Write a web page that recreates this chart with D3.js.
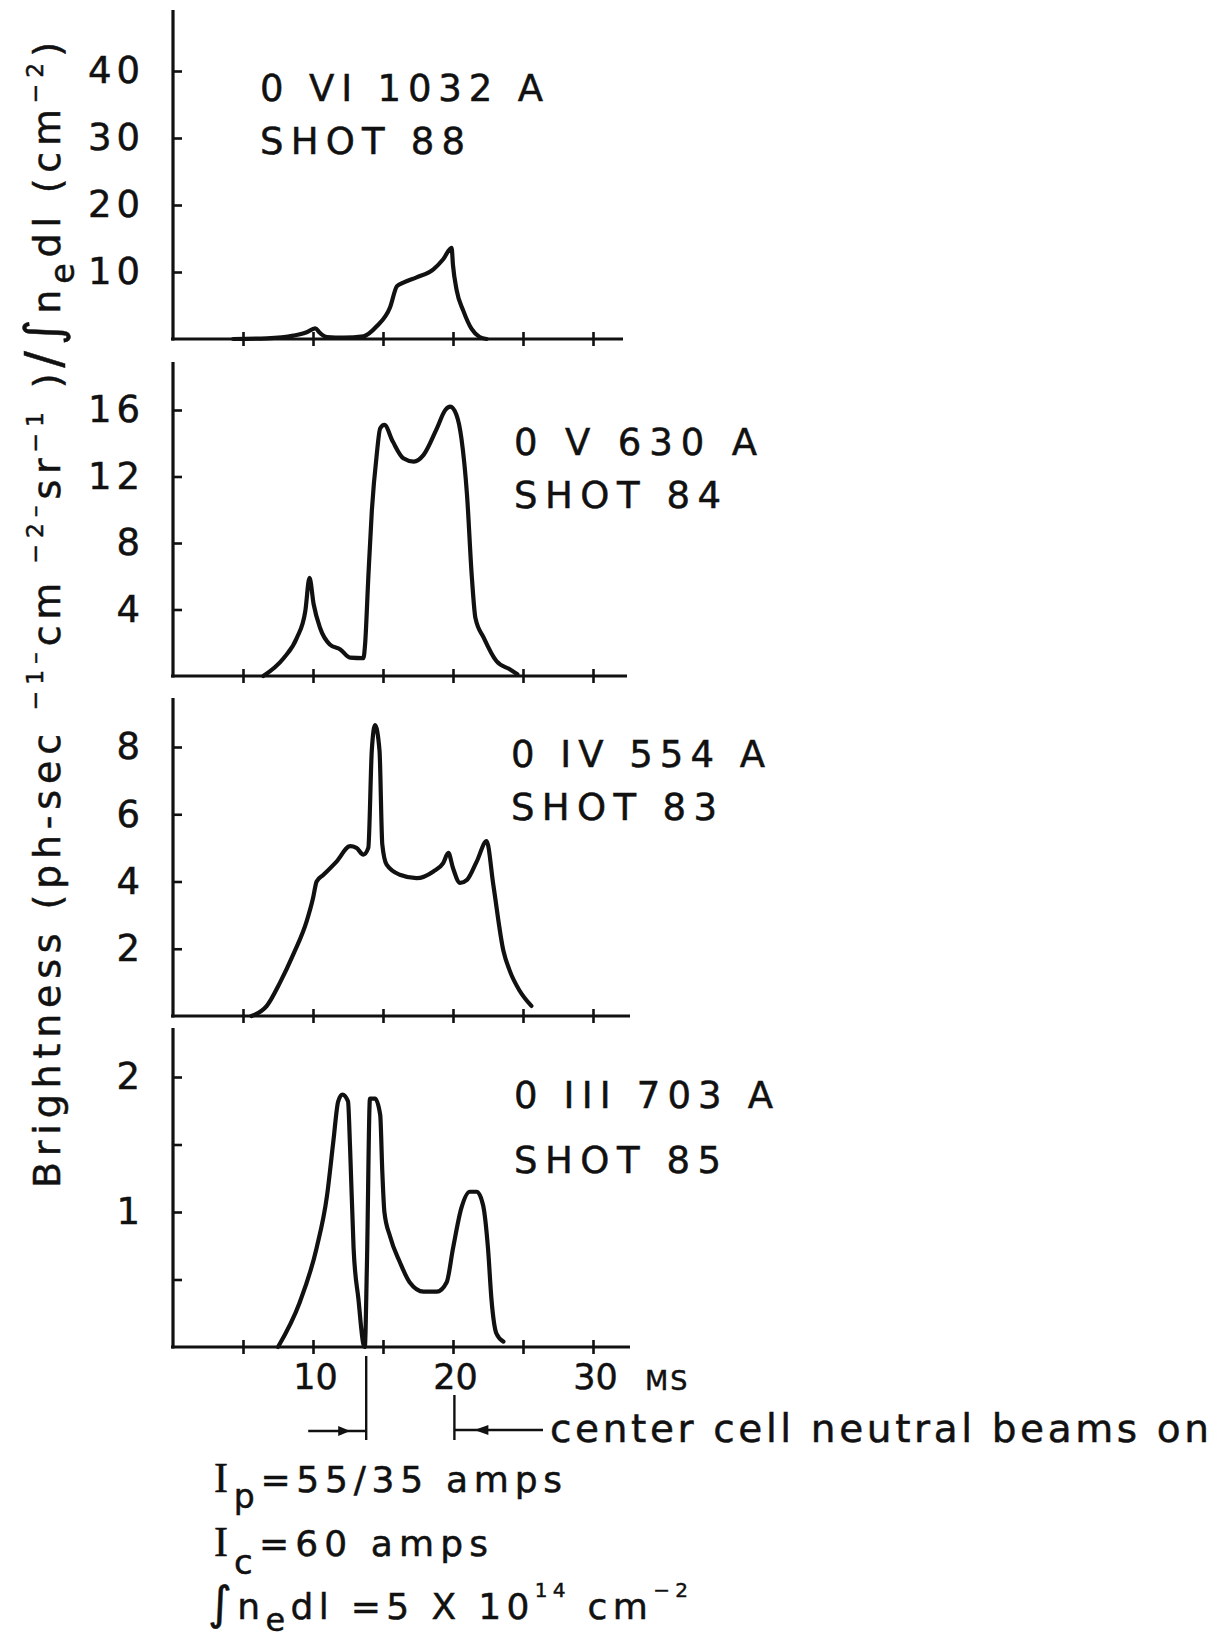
<!DOCTYPE html>
<html>
<head>
<meta charset="utf-8">
<script src="https://cdn.jsdelivr.net/npm/d3@7"></script>
<style>
  body { margin: 0; background: #fff; }
  svg { display: block; background: #fff; }
  text { font-family: "DejaVu Sans", "Liberation Sans", Arial, sans-serif; fill: #111; stroke: #111; stroke-width: 0.5px; }
</style>
</head>
<body>
<div id="chart"></div>
<script>
// ===== Dữ liệu =====
const panelNames = ["0 VI 1032 A", "0 V 630 A", "0 IV 554 A", "0 III 703 A"];
const shotNames = ["SHOT 88", "SHOT 84", "SHOT 83", "SHOT 85"];
const xTickValues = [5, 10, 15, 20, 25, 30];
const xTickLabels = [10, 20, 30];
const yTickValues = [[10, 20, 30, 40], [4, 8, 12, 16], [2, 4, 6, 8], [0.5, 1, 1.5, 2]];
const yDomainMax = [40, 16, 8, 2];
const markerTimes = [13.8, 20.1];   // ms

// O VI 1032 A, shot 88
const o6Time  = [4.3, 6.7, 8.6, 9.55, 10.15, 10.5, 11.0, 12.2, 13.6, 14.55, 15.5, 16.0, 16.45, 17.4, 18.6, 19.3, 19.9, 20.0, 20.26, 20.74, 21.33, 21.9, 22.4];
const o6Value = [0, 0.1, 0.5, 1.0, 1.6, 0.9, 0.3, 0.2, 0.4, 1.9, 4.7, 7.9, 8.4, 9.2, 10.4, 11.9, 13.6, 11.0, 7.3, 4.2, 1.5, 0.3, 0];
// O V 630 A, shot 84
const o5Time  = [6.45, 7.9, 8.85, 9.45, 9.75, 10.05, 10.5, 11.2, 11.95, 12.65, 13.6, 13.72, 13.95, 14.2, 14.55, 14.8, 15.1, 15.7, 16.45, 17.2, 17.9, 18.85, 19.45, 19.8, 20.25, 20.6, 21.0, 21.35, 21.6, 22.2, 23.1, 24.05, 24.6];
const o5Value = [0, 1.07, 2.3, 3.9, 5.9, 4.3, 2.9, 1.9, 1.6, 1.1, 1.07, 1.9, 5.9, 9.9, 13.3, 14.9, 15.1, 14.1, 13.1, 12.9, 13.3, 14.9, 16.0, 16.2, 15.7, 14.3, 10.9, 5.9, 3.5, 2.3, 0.9, 0.4, 0.1];
// O IV 554 A, shot 83
const o4Time  = [5.6, 6.7, 7.65, 8.6, 9.55, 10.0, 10.26, 10.75, 11.7, 12.65, 13.1, 13.6, 13.95, 14.2, 14.43, 14.75, 14.95, 15.26, 16.2, 17.4, 18.6, 19.3, 19.67, 20.0, 20.5, 21.0, 21.7, 22.4, 22.88, 23.6, 24.05, 24.76, 25.6];
const o4Value = [0, 0.3, 1.0, 1.84, 2.82, 3.5, 4.0, 4.2, 4.6, 5.05, 5.0, 4.8, 5.0, 7.9, 8.65, 7.9, 5.1, 4.5, 4.2, 4.1, 4.3, 4.55, 4.85, 4.4, 3.96, 4.05, 4.6, 5.2, 3.9, 1.94, 1.35, 0.75, 0.3];
// O III 703 A, shot 85
const o3Time  = [7.5, 9.05, 10.25, 11.0, 11.45, 11.8, 12.1, 12.5, 12.65, 12.9, 13.25, 13.6, 13.7, 13.85, 14.07, 14.43, 14.8, 14.95, 15.1, 15.5, 16.2, 16.9, 17.9, 18.85, 19.55, 20.0, 20.6, 21.2, 21.7, 22.15, 22.5, 22.75, 23.1, 23.6];
const o3Value = [0, 0.33, 0.73, 1.12, 1.52, 1.82, 1.87, 1.82, 1.47, 0.73, 0.35, 0.02, 0, 0.6, 1.84, 1.84, 1.72, 1.3, 1.0, 0.82, 0.63, 0.48, 0.41, 0.41, 0.48, 0.73, 1.03, 1.15, 1.15, 1.05, 0.73, 0.35, 0.1, 0.04];

const seriesTime = [o6Time, o5Time, o4Time, o3Time];
const seriesValue = [o6Value, o5Value, o4Value, o3Value];

// ===== Bố cục (pixel) =====
const W = 1228, H = 1641;
const ink = "#111";
const font = "'DejaVu Sans', 'Liberation Sans', Arial, sans-serif";
const xRange = [173, 593];
const layout = [
  { top: 10,   base: 339,  topPx: 71,   end: 623, lx: 260, len1: 283, len2: 205, y1: 101,  y2: 154 },
  { top: 362,  base: 676,  topPx: 410,  end: 627, lx: 514, len1: 243, len2: 207, y1: 455,  y2: 508 },
  { top: 698,  base: 1016, topPx: 747,  end: 630, lx: 511, len1: 254, len2: 206, y1: 767,  y2: 820 },
  { top: 1028, base: 1347, topPx: 1077, end: 630, lx: 514, len1: 259, len2: 207, y1: 1108, y2: 1173 }
];

const svg = d3.select("#chart").append("svg")
  .attr("width", W).attr("height", H);

const x = d3.scaleLinear().domain([0, 30]).range(xRange);

// Vẽ từng khung
layout.forEach((L, i) => {
  const y = d3.scaleLinear().domain([0, yDomainMax[i]]).range([L.base, L.topPx]);
  const g = svg.append("g");

  // trục dọc + trục ngang
  g.append("line").attr("x1", xRange[0]).attr("x2", xRange[0])
    .attr("y1", L.top).attr("y2", L.base + 1.5)
    .attr("stroke", ink).attr("stroke-width", 3.2);
  g.append("line").attr("x1", xRange[0] - 2).attr("x2", L.end)
    .attr("y1", L.base).attr("y2", L.base)
    .attr("stroke", ink).attr("stroke-width", 3.2);

  // vạch chia trục y (hướng vào trong)
  const yTicks = g.append("g").attr("transform", `translate(${xRange[0]},0)`)
    .call(d3.axisRight(y).tickValues(yTickValues[i]).tickSize(9).tickFormat(""));
  yTicks.select(".domain").remove();
  yTicks.selectAll("line").attr("stroke", ink).attr("stroke-width", 2.6);

  // nhãn trục y
  const yLab = g.append("g").attr("transform", `translate(${xRange[0]},0)`)
    .call(d3.axisLeft(y).tickValues(yTickValues[i]).tickSize(0).tickPadding(28)
      .tickFormat(d => Number.isInteger(d) ? d : ""));
  yLab.select(".domain").remove();
  yLab.selectAll("text")
    .style("font-family", font)
    .style("font-size", "37px").style("letter-spacing", "5px").attr("fill", ink);

  // vạch chia trục x (cắt ngang trục)
  const xTicks = g.append("g").attr("transform", `translate(0,${L.base})`)
    .call(d3.axisBottom(x).tickValues(xTickValues).tickSize(7).tickFormat(""));
  xTicks.select(".domain").remove();
  xTicks.selectAll("line").attr("y1", -7).attr("stroke", ink).attr("stroke-width", 2.6);

  // đường cong
  const pts = seriesTime[i].map((t, k) => [t, seriesValue[i][k]]);
  g.append("path").datum(pts)
    .attr("fill", "none").attr("stroke", ink).attr("stroke-width", 4.2)
    .attr("stroke-linejoin", "round").attr("stroke-linecap", "round")
    .attr("d", d3.line().x(d => x(d[0])).y(d => y(d[1])).curve(d3.curveMonotoneX));

  // tên vạch phổ
  g.append("text").attr("x", L.lx).attr("y", L.y1)
    .attr("textLength", L.len1).attr("lengthAdjust", "spacing")
    .style("font-size", "37px").text(panelNames[i]);
  g.append("text").attr("x", L.lx).attr("y", L.y2)
    .attr("textLength", L.len2).attr("lengthAdjust", "spacing")
    .style("font-size", "37px").text(shotNames[i]);

  // nhãn thời gian dưới khung cuối
  if (i === layout.length - 1) {
    const xLab = g.append("g").attr("transform", `translate(0,${L.base})`)
      .call(d3.axisBottom(x).tickValues(xTickLabels).tickSize(0).tickPadding(17));
    xLab.select(".domain").remove();
    xLab.selectAll("text")
      .style("font-family", font).style("font-size", "35px")
      .attr("dx", 2).attr("fill", ink);
  }
});

// đơn vị MS
svg.append("text").attr("x", 645).attr("y", 1390)
  .style("font-size", "27px").style("letter-spacing", "2px").text("MS");

// Hàm viết chữ có chỉ số trên / dưới
function richText(parent, pieces, size) {
  let shift = 0;
  pieces.forEach(p => {
    const ts = parent.append("tspan").text(p.t);
    let target = 0, fs = size;
    if (p.k === "sup") { target = -size * 0.45; fs = size * 0.62; }
    if (p.k === "sub") { target = size * 0.38; fs = size * 0.88; }
    if (p.k === "big") { fs = size * 1.3; }
    if (p.k === "serif") { ts.style("font-family", "'Liberation Serif', 'DejaVu Serif', serif"); }
    if (p.fs) fs = p.fs;
    if (p.dy !== undefined) target = p.dy;
    ts.attr("dy", target - shift).style("font-size", fs + "px");
    shift = target;
  });
}

// tiêu đề trục y (xoay dọc)
const yTitle = svg.append("text")
  .attr("transform", "translate(60,1188) rotate(-90)")
  .attr("textLength", 1146).attr("lengthAdjust", "spacing")
  .style("font-size", "38px");
richText(yTitle, [
  { t: "Brightness (ph-sec ", k: "n" },
  { t: "−1–", k: "sup" },
  { t: "cm", k: "n" },
  { t: " −2–", k: "sup" },
  { t: "sr", k: "n" },
  { t: "−1", k: "sup" },
  { t: " )", k: "n" },
  { t: "/∫", k: "big" },
  { t: "n", k: "n" },
  { t: "e", k: "sub" },
  { t: "dl (cm", k: "n" },
  { t: "−2", k: "sup" },
  { t: ")", k: "n" }
], 38);

// mốc thời gian dưới trục
const xm1 = x(markerTimes[0]), xm2 = x(markerTimes[1]);
const mark = svg.append("g").attr("stroke", ink).attr("stroke-width", 2.4).attr("fill", ink);
mark.append("line").attr("x1", xm1).attr("x2", xm1).attr("y1", 1356).attr("y2", 1440);
mark.append("line").attr("x1", xm1 - 58).attr("x2", xm1).attr("y1", 1431).attr("y2", 1431);
mark.append("path").attr("stroke", "none")
  .attr("d", `M${xm1 - 16},1431 L${xm1 - 28},1426 L${xm1 - 28},1436 Z`);
mark.append("line").attr("x1", xm2).attr("x2", xm2).attr("y1", 1395).attr("y2", 1440);
mark.append("line").attr("x1", xm2).attr("x2", 543).attr("y1", 1430).attr("y2", 1430);
mark.append("path").attr("stroke", "none")
  .attr("d", `M${xm2 + 20},1430 L${xm2 + 34},1425 L${xm2 + 34},1435 Z`);

svg.append("text").attr("x", 550).attr("y", 1442)
  .attr("textLength", 659).attr("lengthAdjust", "spacing")
  .style("font-size", "39px").text("center cell neutral beams on");

// thông số phóng điện
const line1 = svg.append("text").attr("x", 214).attr("y", 1492)
  .attr("textLength", 348).attr("lengthAdjust", "spacing").style("font-size", "36px");
richText(line1, [
  { t: "I", k: "serif", fs: 42 },
  { t: "p", k: "sub", fs: 33, dy: 16 },
  { t: "=55/35 amps", k: "n" }
], 36);

const line2 = svg.append("text").attr("x", 214).attr("y", 1556)
  .attr("textLength", 274).attr("lengthAdjust", "spacing").style("font-size", "36px");
richText(line2, [
  { t: "I", k: "serif", fs: 42 },
  { t: "c", k: "sub", fs: 34, dy: 18 },
  { t: "=60  amps", k: "n" }
], 36);

const line3 = svg.append("text").attr("x", 208).attr("y", 1619)
  .attr("textLength", 480).attr("lengthAdjust", "spacing").style("font-size", "36px");
richText(line3, [
  { t: "∫", k: "big", fs: 46 },
  { t: "n", k: "n" },
  { t: "e", k: "sub", fs: 32, dy: 12 },
  { t: "dl =5 X 10", k: "n" },
  { t: "14", k: "sup", fs: 20, dy: -22 },
  { t: " cm", k: "n" },
  { t: "−2", k: "sup", fs: 20, dy: -22 }
], 36);
</script>
</body>
</html>
